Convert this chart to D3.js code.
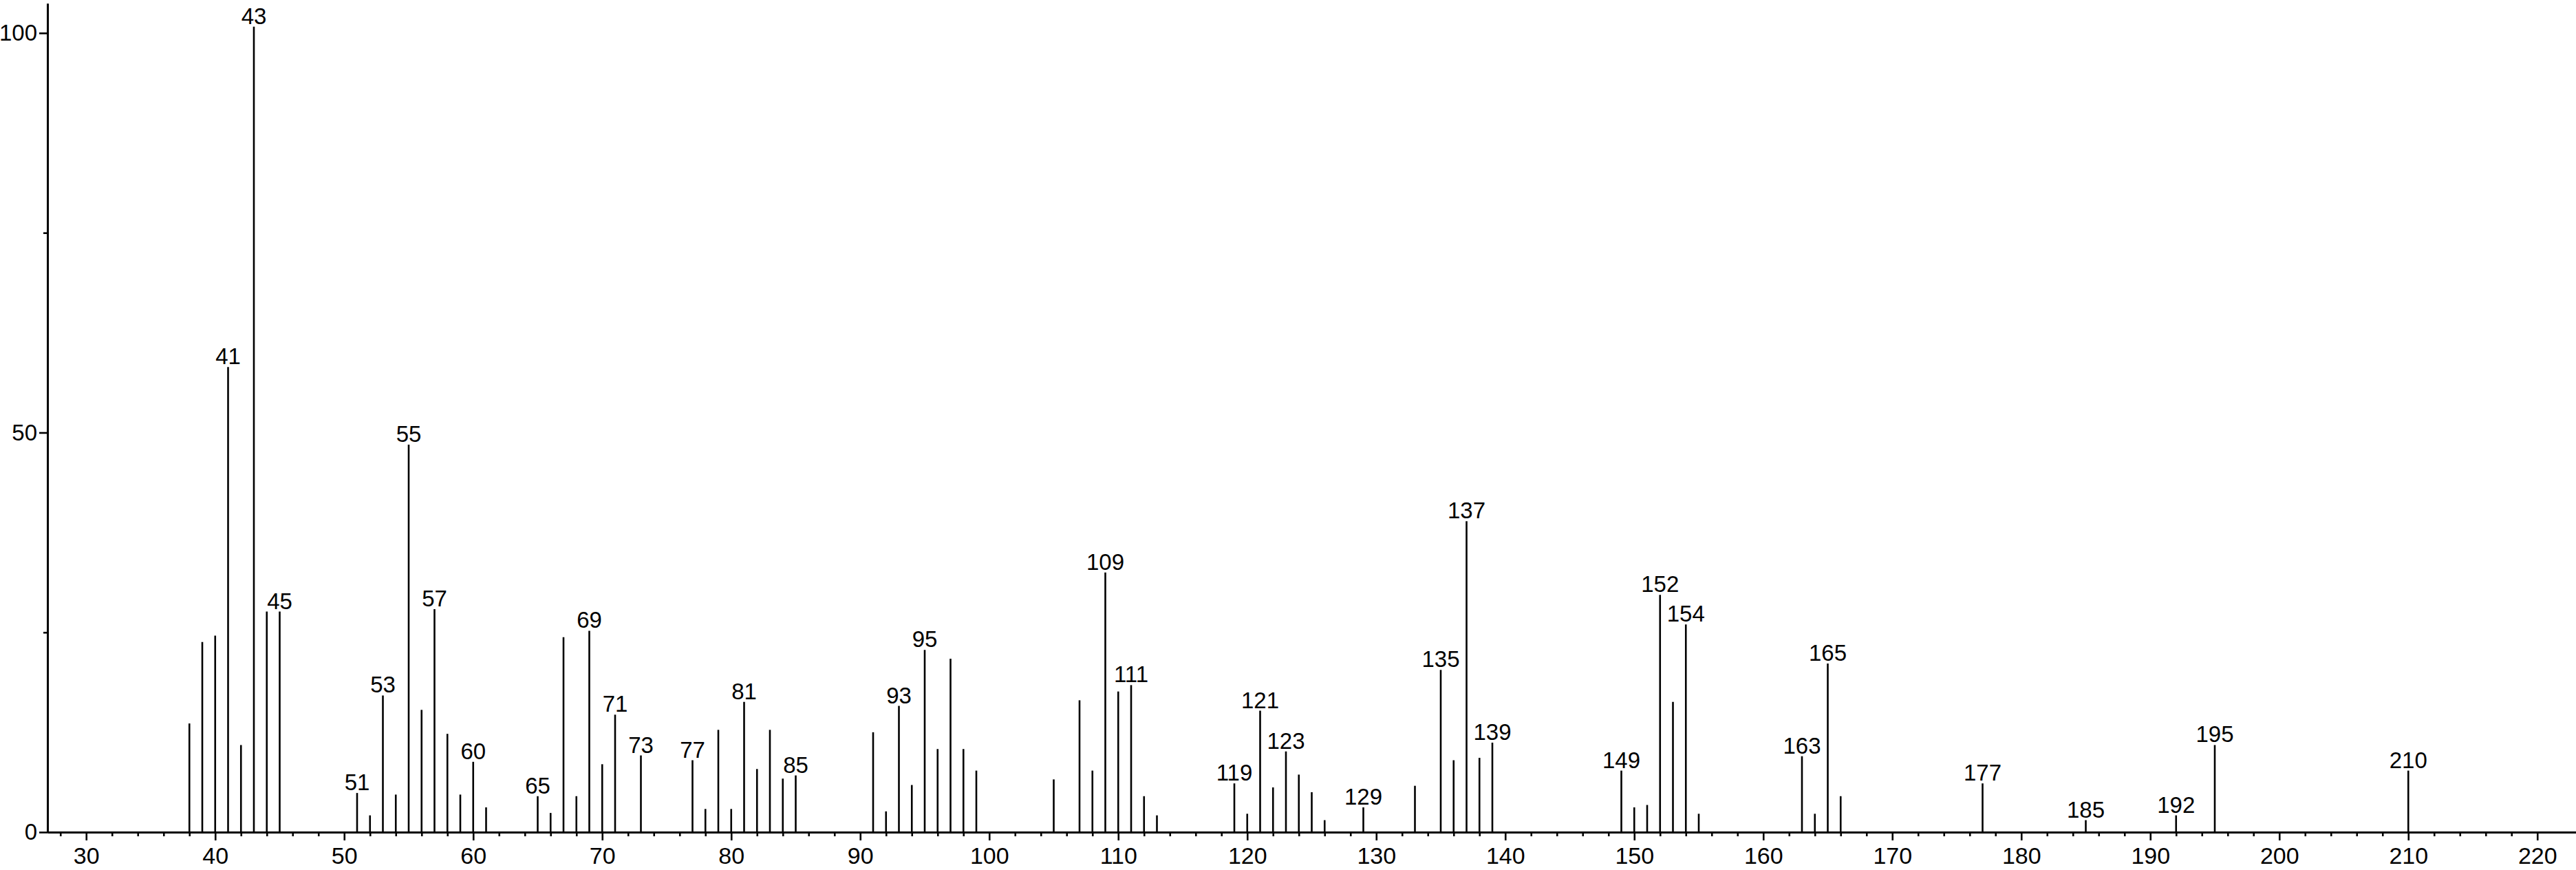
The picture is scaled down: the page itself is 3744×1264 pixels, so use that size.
<!DOCTYPE html>
<html>
<head>
<meta charset="utf-8">
<script src="https://cdn.jsdelivr.net/npm/d3@7"></script>
<style>
  html, body { margin: 0; padding: 0; background: #fff; }
  svg { display: block; }
  text { font-family: "Liberation Sans", Arial, Helvetica, sans-serif; fill: #000; }
</style>
</head>
<body>
<svg id="chart" width="3744" height="1264"></svg>
<script>
// m/z values of the peaks
const mz = [38,39,40,41,42,43,44,45,
  51,52,53,54,55,56,57,58,59,60,61,
  65,66,67,68,69,70,71,73,
  77,78,79,80,81,82,83,84,85,
  91,92,93,94,95,96,97,98,99,
  105,107,108,109,110,111,112,113,
  119,120,121,122,123,124,125,126,129,
  133,135,136,137,138,139,
  149,150,151,152,153,154,155,
  163,164,165,166,
  177,185,192,195,210];
// relative intensities (%)
const intensity = [13.6,23.8,24.6,58.2,10.9,100.8,27.6,27.6,
  4.9,2.1,17.1,4.7,48.5,15.3,27.9,12.3,4.7,8.8,3.1,
  4.5,2.4,24.4,4.5,25.2,8.5,14.7,9.6,
  9.0,2.9,12.8,2.9,16.3,7.9,12.8,6.7,7.1,
  12.5,2.6,15.8,5.9,22.8,10.4,21.7,10.4,7.7,
  6.6,16.5,7.7,32.5,17.6,18.4,4.5,2.1,
  6.1,2.3,15.2,5.6,10.1,7.2,5.0,1.5,3.1,
  5.8,20.3,9.0,38.9,9.3,11.2,
  7.7,3.1,3.4,29.7,16.3,26.0,2.3,
  9.5,2.3,21.1,4.5,
  6.1,1.5,2.1,10.9,7.7];
// peaks that carry an m/z label
const labeledPeaks = [41,43,45,51,53,55,57,60,65,69,71,73,77,81,85,93,95,
  109,111,119,121,123,129,135,137,139,149,152,154,163,165,177,185,192,195,210];
// axis ticks
const xMajorTicks = [30,40,50,60,70,80,90,100,110,120,130,140,150,160,170,180,190,200,210,220];
const xMinorTicks = [28,32,34,36,38,42,44,46,48,52,54,56,58,62,64,66,68,72,74,76,78,82,84,86,88,
  92,94,96,98,102,104,106,108,112,114,116,118,122,124,126,128,132,134,136,138,142,144,146,148,
  152,154,156,158,162,164,166,168,172,174,176,178,182,184,186,188,192,194,196,198,
  202,204,206,208,212,214,216,218];
const yMajorTicks = [0,50,100];
const yMinorTicks = [25,75];

const svg = d3.select("#chart");
const x = d3.scaleLinear().domain([27, 223]).range([69, 3744]);
const y = d3.scaleLinear().domain([0, 103.7]).range([1209, 5]);

const peaks = mz.map((m, i) => ({mz: m, v: intensity[i]}));

// bars (sticks)
svg.append("g").selectAll("line").data(peaks).join("line")
  .attr("x1", d => x(d.mz)).attr("x2", d => x(d.mz))
  .attr("y1", y(0)).attr("y2", d => y(d.v))
  .attr("stroke", "#000").attr("stroke-width", 2.6);

// peak labels
svg.append("g").selectAll("text").data(peaks.filter(d => labeledPeaks.includes(d.mz))).join("text")
  .attr("x", d => x(d.mz)).attr("y", d => y(d.v) - 4)
  .attr("text-anchor", "middle")
  .attr("font-size", 33)
  .text(d => d.mz);

// x axis
const gxMinor = svg.append("g").attr("transform", `translate(0,${y(0)})`)
  .call(d3.axisBottom(x).tickValues(xMinorTicks).tickSize(6).tickSizeOuter(0).tickFormat(""));
const gx = svg.append("g").attr("transform", `translate(0,${y(0)})`)
  .call(d3.axisBottom(x).tickValues(xMajorTicks).tickSize(12).tickSizeOuter(0).tickPadding(10).tickFormat(d3.format("d")));

// y axis
const gyMinor = svg.append("g").attr("transform", `translate(${x(27)},0)`)
  .call(d3.axisLeft(y).tickValues(yMinorTicks).tickSize(6).tickSizeOuter(0).tickFormat(""));
const gy = svg.append("g").attr("transform", `translate(${x(27)},0)`)
  .call(d3.axisLeft(y).tickValues(yMajorTicks).tickSize(12).tickSizeOuter(0).tickPadding(3).tickFormat(d3.format("d")));

[gxMinor, gx, gyMinor, gy].forEach(g => {
  g.selectAll(".domain").attr("stroke", "#000").attr("stroke-width", 3);
  g.selectAll(".tick line").attr("stroke", "#000").attr("stroke-width", 2.6);
  g.selectAll(".tick text").attr("font-size", 34).attr("font-family", "'Liberation Sans', Arial, sans-serif").attr("fill", "#000");
});
gy.selectAll(".tick text").attr("font-size", 33);
</script>
</body>
</html>
